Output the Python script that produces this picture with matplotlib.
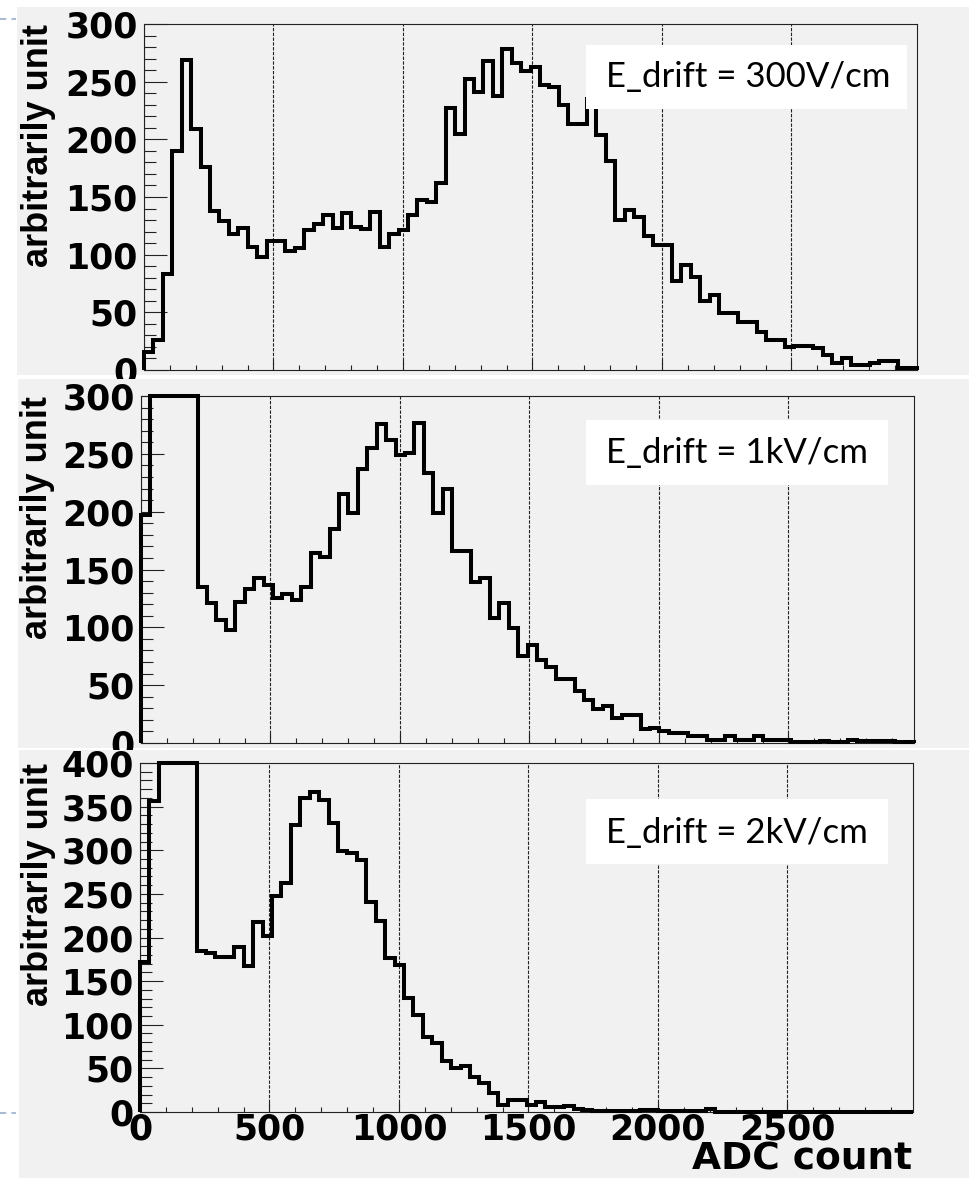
import numpy as np
import matplotlib
matplotlib.use("Agg")
import matplotlib.pyplot as plt
from matplotlib.patches import Rectangle
from matplotlib.lines import Line2D
from matplotlib.ticker import MultipleLocator, FixedLocator

# ---------------- data ----------------
BIN_WIDTH = 36.4
N_BINS = 82
bin_edges = np.arange(N_BINS + 1) * BIN_WIDTH

counts_300V = [16, 26, 83, 190, 269, 209, 176, 138, 129, 118,
               123, 107, 98, 112, 112, 103, 106, 121, 127, 134,
               123, 136, 124, 122, 137, 107, 118, 121, 134, 147,
               146, 162, 227, 205, 252, 241, 268, 238, 278, 266,
               259, 263, 247, 245, 230, 213, 213, 235, 204, 181,
               130, 139, 133, 116, 108, 108, 77, 91, 81, 60,
               65, 49, 49, 42, 42, 33, 26, 26, 20, 21,
               21, 19, 13, 6, 10, 4, 4, 6, 8, 8, 2, 2]

counts_1kV = [197, 300, 300, 300, 300, 300, 135, 121, 106, 98,
              122, 133, 143, 137, 125, 129, 124, 135, 164, 161,
              185, 215, 199, 237, 255, 276, 262, 249, 251, 277,
              233, 199, 220, 166, 166, 139, 143, 108, 121, 99,
              75, 85, 72, 66, 55, 55, 45, 37, 29, 32,
              22, 24, 24, 12, 13, 10, 9, 9, 6, 6,
              3, 3, 6, 3, 3, 6, 3, 3, 3, 1,
              1, 1, 1.5, 1, 1, 3, 1.5, 1.5, 1.5, 1.5, 0.5, 0.5]

counts_2kV = [172, 357, 400, 400, 400, 400, 185, 182, 178, 178,
              189, 167, 218, 202, 248, 262, 329, 360, 367, 358,
              331, 299, 297, 289, 241, 219, 176, 169, 131, 111,
              86, 79, 59, 50, 53, 40, 33, 22, 8, 14,
              14, 8, 11, 6, 6, 7, 3, 2, 1, 1.5,
              1.5, 1.5, 1.5, 2.5, 2.5, 1, 1, 1, 1, 1,
              4] + [0.5] * 21

panel_labels = ["E_drift = 300V/cm", "E_drift = 1kV/cm", "E_drift = 2kV/cm"]
panel_ymax = [300, 300, 400]
x_major_ticks = [0, 500, 1000, 1500, 2000, 2500]
y_title = "arbitrarily unit"
x_title = "ADC count"

# ---------------- layout (pixels) ----------------
W, H = 969, 1178
fig = plt.figure(figsize=(W / 100, H / 100), dpi=100, facecolor="white")

def fx(px):
    return px / W

def fy(py):
    return 1 - py / H

BG = "#f1f1f1"
# (left, right, top, bottom) of axes frames
frames = [(144, 917, 24, 370), (141, 914, 396, 743), (140, 913, 763, 1112)]
# panel backgrounds (left, top, bottom)
backs = [(17, 7, 375), (18, 379, 748), (19, 750, 1178)]
# annotation boxes in pixels (left, right, top, bottom), text left / centre y
boxes = [(586, 907, 45, 109), (586, 888, 420, 485), (586, 888, 799, 864)]
text_pos = [(606, 77), (606, 453), (606, 833)]

data = [counts_300V, counts_1kV, counts_2kV]

for i in range(3):
    bl, bt, bb = backs[i]
    fig.patches.append(Rectangle((fx(bl), fy(bb)), fx(W - bl), fy(bt) - fy(bb),
                                 transform=fig.transFigure, facecolor=BG,
                                 edgecolor="none", zorder=i + 0.5))
    l, r, t, b = frames[i]
    ax = fig.add_axes([fx(l), fy(b), fx(r - l), fy(t) - fy(b)])
    ax.set_zorder(i + 1)
    ax.set_facecolor(BG)
    ax.stairs(data[i], bin_edges, color="black", lw=2.9, zorder=3,
              clip_on=False)
    ax.set_xlim(0, bin_edges[-1])
    ax.set_ylim(0, panel_ymax[i])

    ax.xaxis.set_major_locator(FixedLocator(x_major_ticks))
    ax.xaxis.set_minor_locator(MultipleLocator(100))
    ax.yaxis.set_major_locator(MultipleLocator(50))
    ax.yaxis.set_minor_locator(MultipleLocator(10))
    ax.grid(axis="x", which="major", color="#222222", lw=0.8,
            linestyle=(0, (3, 1.3)))
    ax.set_axisbelow(True)

    for s in ax.spines.values():
        s.set_linewidth(0.8)
        s.set_color("#222222")

    ax.tick_params(axis="y", which="major", direction="in", length=16.5,
                   width=0.8, color="#222222", pad=4.5)
    ax.tick_params(axis="y", which="minor", direction="in", length=8.5,
                   width=0.8, color="#222222")
    ax.tick_params(axis="x", which="major", direction="in", length=7,
                   width=0.8, color="#222222", pad=0)
    ax.tick_params(axis="x", which="minor", direction="in", length=3.6,
                   width=0.8, color="#222222")
    for lab in ax.get_yticklabels():
        lab.set_fontfamily("DejaVu Sans")
        lab.set_fontweight("bold")
        lab.set_fontsize(25)
    if i < 2:
        ax.tick_params(axis="x", labelbottom=False)
    else:
        for lab in ax.get_xticklabels():
            lab.set_fontfamily("DejaVu Sans")
            lab.set_fontweight("bold")
            lab.set_fontsize(25)

    # y axis title, aligned to top of frame
    ax.text((38 - l) / (r - l), 1.0, y_title, transform=ax.transAxes,
            rotation=90, ha="center", va="top", fontsize=26,
            fontweight="bold", family="Liberation Sans", color="black")

    # annotation box
    x0, x1, yt, yb = boxes[i]
    ax.add_patch(Rectangle(((x0 - l) / (r - l), (b - yb) / (b - t)),
                           (x1 - x0) / (r - l), (yb - yt) / (b - t),
                           transform=ax.transAxes, facecolor="white",
                           edgecolor="none", zorder=5, clip_on=False))
    tx, ty = text_pos[i]
    ax.text((tx - l) / (r - l), (b - ty) / (b - t), panel_labels[i],
            transform=ax.transAxes, ha="left", va="center", fontsize=25,
            family="Lato", color="black", zorder=6)

fig.text(fx(912), fy(1177), x_title, ha="right", va="bottom", fontsize=27,
         fontweight="bold", family="DejaVu Sans", zorder=10)

# slide decoration dashes at the left edge
for yy in (19, 1113):
    fig.add_artist(Line2D([0, fx(16)], [fy(yy), fy(yy)], transform=fig.transFigure,
                          color="#a9bcd6", lw=1.5, linestyle=(0, (3, 2.5))))

fig.savefig("out.png", dpi=100, facecolor="white")
